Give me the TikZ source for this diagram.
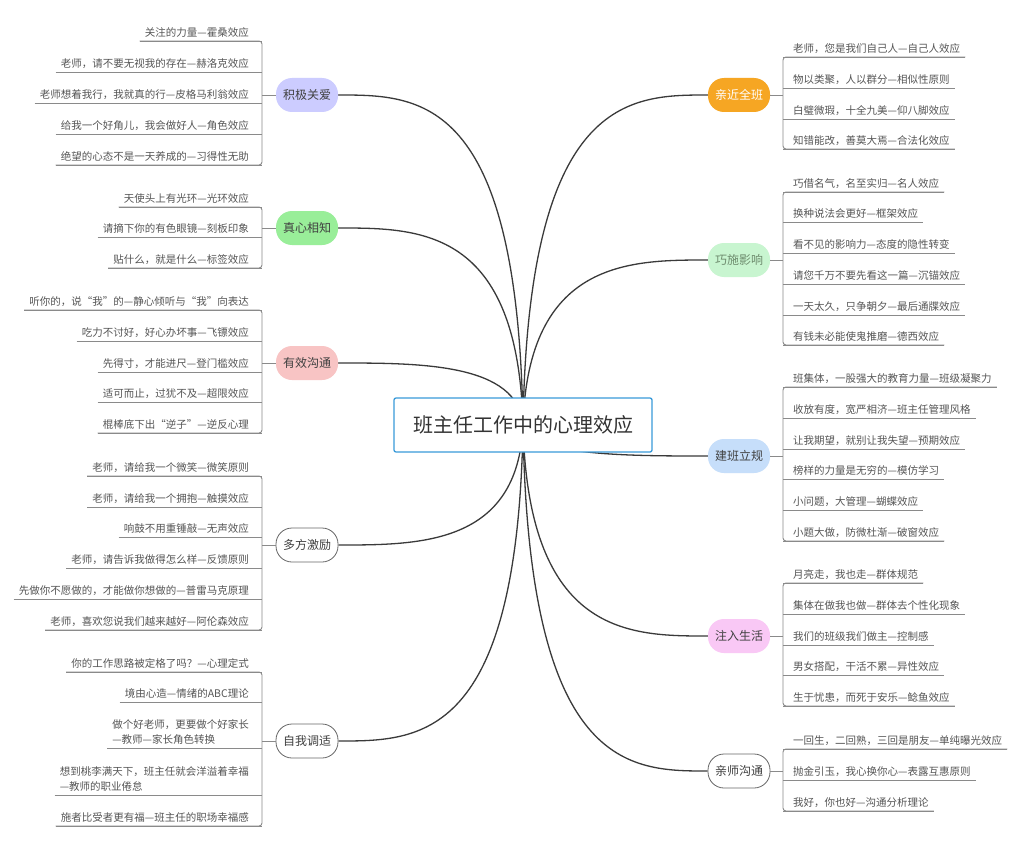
\documentclass[tikz,border=0pt]{standalone}
\usepackage{fontspec}
\setmainfont{Noto Sans CJK SC}
\usetikzlibrary{backgrounds}
\definecolor{txt}{HTML}{555555}
\definecolor{brc}{HTML}{8A8A8A}
\definecolor{crv}{HTML}{3A3A3A}
\tikzset{
 leafL/.style={anchor=south east,inner xsep=5pt,inner ysep=3pt,align=left,font=\fontsize{10.5}{15}\selectfont,text=txt},
 leafR/.style={anchor=south west,inner xsep=5pt,inner ysep=3pt,align=left,font=\fontsize{10.5}{15}\selectfont,text=txt},
 brk/.style={draw=brc,line width=0.9pt},
 pill/.style={draw=none,minimum width=62pt,minimum height=34pt,rounded corners=16pt,font=\fontsize{12}{14}\selectfont,text=black!75,inner sep=2pt},
 crvs/.style={draw=crv,line width=1.3pt},
}
\begin{document}
\begin{tikzpicture}[x=1pt,y=-1pt]
\useasboundingbox (0,0) rectangle (1024,848);
\node[draw={rgb,255:red,58;green,154;blue,217},line width=1.3pt,fill=white,rounded corners=2pt,minimum width=258pt,minimum height=54pt,font=\fontsize{20}{24}\selectfont,text=black!80] (C) at (523,425) {班主任工作中的心理效应};
% branch nodes
\node[pill,fill={rgb,255:red,204;green,204;blue,255}] (A) at (307,95) {积极关爱};
\node[pill,fill={rgb,255:red,153;green,238;blue,153}] (B) at (307,228) {真心相知};
\node[pill,fill={rgb,255:red,248;green,196;blue,196}] (D) at (307,363) {有效沟通};
\node[pill,draw=black!60,line width=0.8pt,fill=white] (E) at (307,545) {多方激励};
\node[pill,draw=black!60,line width=0.8pt,fill=white] (F) at (307,741) {自我调适};
\node[pill,fill={rgb,255:red,246;green,166;blue,35},text=white] (G) at (739,95) {亲近全班};
\node[pill,fill={rgb,255:red,200;green,245;blue,208},text={rgb,255:red,110;green,140;blue,110}] (H) at (739,260) {巧施影响};
\node[pill,fill={rgb,255:red,198;green,222;blue,250}] (I) at (739,456) {建班立规};
\node[pill,fill={rgb,255:red,249;green,200;blue,245}] (J) at (739,636) {注入生活};
\node[pill,draw=black!60,line width=0.8pt,fill=white] (K) at (739,771) {亲师沟通};
\begin{scope}[on background layer]
\fill[white] (0,0) rectangle (1024,848);
\foreach \n/\y in {A/95,B/228,D/363,E/545,F/741}{
 \draw[crvs] (C.center) .. controls (518,\y) and (420,\y) .. (\n.east);
}
\foreach \n/\y in {G/95,H/260,I/456,J/636,K/771}{
 \draw[crvs] (C.center) .. controls (528,\y) and (630,\y) .. (\n.west);
}
\end{scope}
% left groups
\foreach \y/\t [count=\i] in {41/{关注的力量—霍桑效应},72/{老师，请不要无视我的存在—赫洛克效应},103/{老师想着我行，我就真的行—皮格马利翁效应},134/{给我一个好角儿，我会做好人—角色效应},165/{绝望的心态不是一天养成的—习得性无助}}
 {\node[leafL] (a\i) at (254,\y) {\t}; \draw[brk] (a\i.south west) -- (262,\y);}
\draw[brk,rounded corners=3pt] (a1.south west) -- (262,41) -- (262,165) -- (a5.south west);
\draw[brk] (262,95) -- (A.west);
\foreach \y/\t [count=\i] in {207/{天使头上有光环—光环效应},237/{请摘下你的有色眼镜—刻板印象},268/{贴什么，就是什么—标签效应}}
 {\node[leafL] (b\i) at (254,\y) {\t}; \draw[brk] (b\i.south west) -- (262,\y);}
\draw[brk,rounded corners=3pt] (b1.south west) -- (262,207) -- (262,268) -- (b3.south west);
\draw[brk] (262,228) -- (B.west);
\foreach \y/\t [count=\i] in {310/{听你的，说“我”的—静心倾听与“我”向表达},341/{吃力不讨好，好心办坏事—飞镖效应},372/{先得寸，才能进尺—登门槛效应},402/{适可而止，过犹不及—超限效应},433/{棍棒底下出“逆子”—逆反心理}}
 {\node[leafL] (d\i) at (254,\y) {\t}; \draw[brk] (d\i.south west) -- (262,\y);}
\draw[brk,rounded corners=3pt] (d1.south west) -- (262,310) -- (262,433) -- (d5.south west);
\draw[brk] (262,363) -- (D.west);
\foreach \y/\t [count=\i] in {476/{老师，请给我一个微笑—微笑原则},507/{老师，请给我一个拥抱—触摸效应},537/{响鼓不用重锤敲—无声效应},568/{老师，请告诉我做得怎么样—反馈原则},599/{先做你不愿做的，才能做你想做的—普雷马克原理},630/{老师，喜欢您说我们越来越好—阿伦森效应}}
 {\node[leafL] (e\i) at (254,\y) {\t}; \draw[brk] (e\i.south west) -- (262,\y);}
\draw[brk,rounded corners=3pt] (e1.south west) -- (262,476) -- (262,630) -- (e6.south west);
\draw[brk] (262,545) -- (E.west);
\foreach \y/\t [count=\i] in {672/{你的工作思路被定格了吗？—心理定式},702/{境由心造—情绪的ABC理论},748/{做个好老师，更要做个好家长\\—教师—家长角色转换},795/{想到桃李满天下，班主任就会洋溢着幸福\\—教师的职业倦怠},826/{施者比受者更有福—班主任的职场幸福感}}
 {\node[leafL] (f\i) at (254,\y) {\t}; \draw[brk] (f\i.south west) -- (262,\y);}
\draw[brk,rounded corners=3pt] (f1.south west) -- (262,672) -- (262,826) -- (f5.south west);
\draw[brk] (262,741) -- (F.west);
% right groups
\foreach \y/\t [count=\i] in {57/{老师，您是我们自己人—自己人效应},88/{物以类聚，人以群分—相似性原则},119/{白璧微瑕，十全九美—仰八脚效应},149/{知错能改，善莫大焉—合法化效应}}
 {\node[leafR] (g\i) at (788,\y) {\t}; \draw[brk] (783,\y) -- (g\i.south east);}
\draw[brk,rounded corners=3pt] (g1.south east) -- (783,57) -- (783,149) -- (g4.south east);
\draw[brk] (G.east) -- (783,95);
\foreach \y/\t [count=\i] in {192/{巧借名气，名至实归—名人效应},222/{换种说法会更好—框架效应},253/{看不见的影响力—态度的隐性转变},284/{请您千万不要先看这一篇—沉锚效应},315/{一天太久，只争朝夕—最后通牒效应},345/{有钱未必能使鬼推磨—德西效应}}
 {\node[leafR] (h\i) at (788,\y) {\t}; \draw[brk] (783,\y) -- (h\i.south east);}
\draw[brk,rounded corners=3pt] (h1.south east) -- (783,192) -- (783,345) -- (h6.south east);
\draw[brk] (H.east) -- (783,260);
\foreach \y/\t [count=\i] in {387/{班集体，一股强大的教育力量—班级凝聚力},418/{收放有度，宽严相济—班主任管理风格},449/{让我期望，就别让我失望—预期效应},479/{榜样的力量是无穷的—模仿学习},510/{小问题，大管理—蝴蝶效应},541/{小题大做，防微杜渐—破窗效应}}
 {\node[leafR] (i\i) at (788,\y) {\t}; \draw[brk] (783,\y) -- (i\i.south east);}
\draw[brk,rounded corners=3pt] (i1.south east) -- (783,387) -- (783,541) -- (i6.south east);
\draw[brk] (I.east) -- (783,456);
\foreach \y/\t [count=\i] in {583/{月亮走，我也走—群体规范},614/{集体在做我也做—群体去个性化现象},645/{我们的班级我们做主—控制感},675/{男女搭配，干活不累—异性效应},706/{生于忧患，而死于安乐—鲶鱼效应}}
 {\node[leafR] (j\i) at (788,\y) {\t}; \draw[brk] (783,\y) -- (j\i.south east);}
\draw[brk,rounded corners=3pt] (j1.south east) -- (783,583) -- (783,706) -- (j5.south east);
\draw[brk] (J.east) -- (783,636);
\foreach \y/\t [count=\i] in {749/{一回生，二回熟，三回是朋友—单纯曝光效应},780/{抛金引玉，我心换你心—表露互惠原则},811/{我好，你也好—沟通分析理论}}
 {\node[leafR] (k\i) at (788,\y) {\t}; \draw[brk] (783,\y) -- (k\i.south east);}
\draw[brk,rounded corners=3pt] (k1.south east) -- (783,749) -- (783,811) -- (k3.south east);
\draw[brk] (K.east) -- (783,771);
\end{tikzpicture}
\end{document}
